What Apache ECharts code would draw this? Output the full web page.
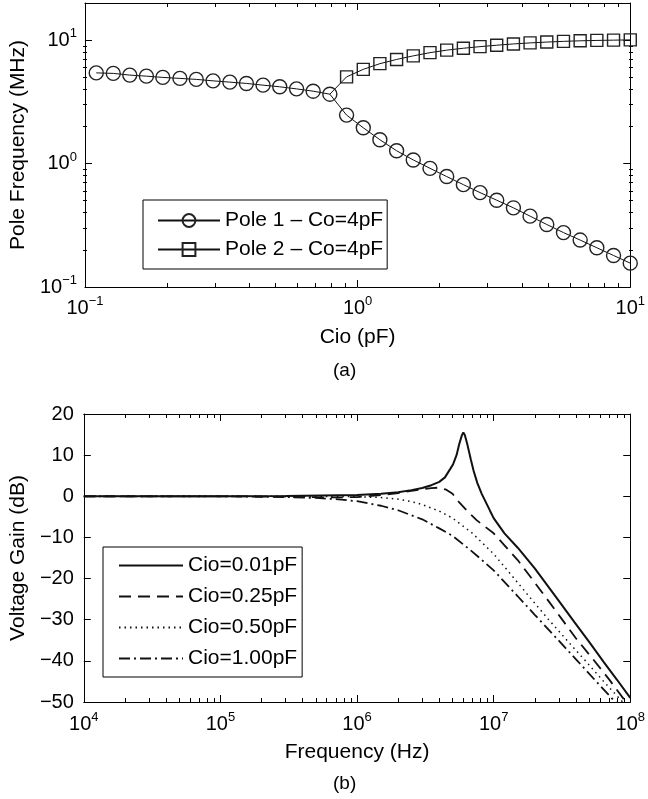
<!DOCTYPE html>
<html><head><meta charset="utf-8">
<script src="https://cdn.jsdelivr.net/npm/echarts@6/dist/echarts.min.js"></script>
<style>html,body{margin:0;padding:0;background:#fff}#c{width:648px;height:799px}</style>
</head><body><div id="c"></div>
<script>
// ---------- (a) pole frequencies ----------
const cioPF = [0.110,0.127,0.146,0.168,0.193,0.223,0.256,0.295,0.340,0.391,0.450,0.518,0.597,0.687,0.791,
  0.911,1.049,1.207,1.390,1.600,1.843,2.122,2.443,2.812,3.237,3.728,4.291,4.941,5.689,6.550,7.541,8.683,10.0];
const pole1MHz = [5.43,5.38,5.21,5.11,4.99,4.90,4.81,4.68,4.57,4.46,4.32,4.19,4.03,3.86,3.65,
  2.47,1.95,1.56,1.27,1.07,0.915,0.785,0.675,0.582,0.505,0.438,0.375,0.321,0.276,0.240,0.208,0.180,0.156];
const pole2MHz = [null,null,null,null,null,null,null,null,null,null,null,null,null,null,3.65,
  5.04,5.80,6.45,6.98,7.46,7.92,8.30,8.60,8.86,9.10,9.32,9.50,9.65,9.78,9.88,9.95,10.0,10.05];
const poleNames = ['Pole 1 \u2013 Co=4pF', 'Pole 2 \u2013 Co=4pF'];

// ---------- (b) voltage gain ----------
const gainNames = ['Cio=0.01pF','Cio=0.25pF','Cio=0.50pF','Cio=1.00pF'];
const fSolid = [1e4,1e5,3e5,1e6,1.5e6,2e6,2.5e6,3e6,3.5e6,4e6,4.4e6,4.8e6,5.05e6,5.35e6,5.6e6,5.85e6,6.0e6,6.15e6,6.43e6,6.8e6,7.13e6,7.6e6,8.18e6,9.4e6,1e7,1.2e7,1.5e7,2e7,3e7,3.9e7,5e7,6.4e7,8e7,1e8];
const gSolid = [0,0,0.05,0.3,0.6,1.0,1.5,2.0,2.7,3.5,4.6,6.6,7.8,10.0,12.7,14.8,15.5,14.9,12.5,9.0,6.2,3.2,0.6,-3.5,-5.3,-9.0,-12.5,-17.5,-25.4,-30.6,-35.4,-40.3,-44.6,-49.0];
const fDash = [1e4,1e5,3e5,6e5,1e6,1.5e6,2e6,2.5e6,3e6,3.5e6,4e6,4.5e6,5e6,5.6e6,6.5e6,7.5e6,1e7,1.5e7,1.9e7,2.5e7,3.1e7,4e7,5.4e7,7e7,9.3e7,1e8];
const gDash = [0,0,-0.1,-0.3,-0.2,0.3,0.8,1.3,1.7,2.0,2.1,1.6,0.6,-1.5,-3.8,-5.8,-9.0,-15.5,-20.0,-25.3,-29.5,-34.5,-39.8,-44.5,-50.0,-51.3];
const fDot = [1e4,1e5,5e5,1e6,1.5e6,2e6,2.5e6,3e6,4e6,5e6,7e6,1e7,1.5e7,2e7,2.5e7,3.5e7,4.7e7,6.5e7,8.8e7,1e8];
const gDot = [0,0,0,-0.1,-0.3,-0.7,-1.3,-2.0,-3.6,-5.3,-9.0,-14.0,-21.0,-26.0,-29.8,-35.3,-40.0,-45.3,-50.0,-52.0];
const fDashDot = [1e4,1e5,3e5,5e5,7e5,1e6,1.5e6,2e6,3e6,4e6,5e6,7e6,1e7,1.5e7,2e7,3e7,4.1e7,6e7,8.3e7,1e8];
const gDashDot = [0,0,-0.2,-0.4,-0.7,-1.2,-2.3,-3.4,-5.6,-7.8,-9.6,-13.5,-18.0,-24.3,-28.8,-35.1,-40.0,-46.0,-51.0,-54.0];

const FONT = '"Liberation Sans", Arial, Helvetica, sans-serif';
const K = '#000';
const zip = (xs, ys) => xs.map((x, i) => [x, ys[i]]);

function logFmt(v) {
  const l = Math.log10(v), e = Math.round(l);
  if (Math.abs(l - e) > 1e-6) return '';
  return '{b|10}{e|' + (e < 0 ? '\u2212' + (-e) : e) + '}';
}
const logRich = {
  b: {fontSize: 20, fontFamily: FONT, color: K, lineHeight: 26},
  e: {fontSize: 13, fontFamily: FONT, color: K, verticalAlign: 'top', lineHeight: 14}
};
const tick = {show: true, inside: true, length: 7, lineStyle: {color: K, width: 1}};
const minor = {show: true, splitNumber: 9, length: 4, lineStyle: {color: K, width: 1}};
const line = {show: true, onZero: false, lineStyle: {color: K, width: 1}};
const nameStyle = {fontSize: 21, fontFamily: FONT, color: K};

const G0 = {left: 83, right: 15, top: 3, height: 284};
const G1 = {left: 83, right: 15, top: 3 + 284 * (Math.log10(20) - 1) / (Math.log10(20) + 1), height: 284 * 2 / (Math.log10(20) + 1)};
const G2 = {left: 83, right: 15, top: 414, height: 288};

const option = {
  animation: false,
  backgroundColor: '#fff',
  grid: [G0, G1, G2],
  xAxis: [
    {gridIndex: 0, type: 'log', min: 0.1, max: 10, position: 'bottom', axisLine: line, axisTick: tick, minorTick: minor,
     splitLine: {show: false}, axisLabel: {formatter: logFmt, rich: logRich, margin: 8},
     name: 'Cio (pF)', nameLocation: 'middle', nameGap: 40, nameTextStyle: nameStyle},
    {gridIndex: 0, type: 'log', min: 0.1, max: 10, position: 'top', axisLine: line, axisTick: tick, minorTick: minor,
     splitLine: {show: false}, axisLabel: {show: false}},
    {gridIndex: 1, type: 'log', min: 0.1, max: 10, show: false},
    {gridIndex: 2, type: 'log', min: 1e4, max: 1e8, position: 'bottom', axisLine: line, axisTick: tick, minorTick: minor,
     splitLine: {show: false}, axisLabel: {formatter: logFmt, rich: logRich, margin: 9},
     name: 'Frequency (Hz)', nameLocation: 'middle', nameGap: 40, nameTextStyle: nameStyle},
    {gridIndex: 2, type: 'log', min: 1e4, max: 1e8, position: 'top', axisLine: line, axisTick: tick, minorTick: minor,
     splitLine: {show: false}, axisLabel: {show: false}}
  ],
  yAxis: [
    {gridIndex: 0, type: 'log', min: 0.1, max: 20, position: 'left', axisLine: line, axisTick: tick,
     splitLine: {show: false}, axisLabel: {formatter: logFmt, rich: logRich, margin: 8},
     name: 'Pole Frequency (MHz)', nameLocation: 'middle', nameGap: 50, nameTextStyle: nameStyle},
    {gridIndex: 0, type: 'log', min: 0.1, max: 20, position: 'right', axisLine: line, axisTick: tick,
     splitLine: {show: false}, axisLabel: {show: false}},
    {gridIndex: 1, type: 'log', min: 0.1, max: 10, position: 'left', axisLine: {show: false},
     axisTick: {show: false, inside: true}, minorTick: minor, splitLine: {show: false}, axisLabel: {show: false}},
    {gridIndex: 1, type: 'log', min: 0.1, max: 10, position: 'right', axisLine: {show: false},
     axisTick: {show: false, inside: true}, minorTick: minor, splitLine: {show: false}, axisLabel: {show: false}},
    {gridIndex: 2, type: 'value', min: -50, max: 20, interval: 10, position: 'left', axisLine: line, axisTick: tick,
     splitLine: {show: false},
     axisLabel: {margin: 10, fontSize: 20, fontFamily: FONT, color: K, formatter: v => v < 0 ? '\u2212' + (-v) : '' + v},
     name: 'Voltage Gain (dB)', nameLocation: 'middle', nameGap: 50, nameTextStyle: nameStyle},
    {gridIndex: 2, type: 'value', min: -50, max: 20, interval: 10, position: 'right', axisLine: line, axisTick: tick,
     splitLine: {show: false}, axisLabel: {show: false}}
  ],
  legend: [
    {data: poleNames, orient: 'vertical', left: 143, top: 200, selectedMode: false,
     itemWidth: 62, itemHeight: 16, itemGap: 8, padding: [10, 4, 9, 14],
     borderColor: K, borderWidth: 1, backgroundColor: '#fff',
     textStyle: {fontSize: 21, fontFamily: FONT, color: K, lineHeight: 20}},
    {data: gainNames, orient: 'vertical', left: 103, top: 547, selectedMode: false,
     itemWidth: 64, itemHeight: 14, itemGap: 10, padding: [8, 5, 8, 15],
     borderColor: K, borderWidth: 1, backgroundColor: '#fff',
     itemStyle: {opacity: 0},
     textStyle: {fontSize: 21, fontFamily: FONT, color: K, lineHeight: 20}}
  ],
  graphic: [
    {type: 'text', left: 345 - 12, top: 361, style: {text: '(a)', font: '19px ' + FONT, fill: K}},
    {type: 'text', left: 345 - 12, top: 774, style: {text: '(b)', font: '19px ' + FONT, fill: K}}
  ],
  series: [
    {name: poleNames[0], type: 'line', xAxisIndex: 0, yAxisIndex: 0, data: zip(cioPF, pole1MHz),
     symbol: 'circle', symbolSize: 14, showAllSymbol: true,
     lineStyle: {color: '#111', width: 1}, itemStyle: {color: 'rgba(0,0,0,0)', borderColor: '#222', borderWidth: 1.4}},
    {name: poleNames[1], type: 'line', xAxisIndex: 0, yAxisIndex: 0,
     data: zip(cioPF, pole2MHz).map((p, i) => p[1] === null ? null : (i === 14 ? {value: p, symbol: 'none'} : p)),
     symbol: 'rect', symbolSize: 12, showAllSymbol: true, connectNulls: false,
     lineStyle: {color: '#111', width: 1}, itemStyle: {color: 'rgba(0,0,0,0)', borderColor: '#222', borderWidth: 1.4}},
    {name: gainNames[0], type: 'line', xAxisIndex: 3, yAxisIndex: 4, data: zip(fSolid, gSolid), symbol: 'none',
     lineStyle: {color: '#111', width: 2}},
    {name: gainNames[1], type: 'line', xAxisIndex: 3, yAxisIndex: 4, data: zip(fDash, gDash), symbol: 'none',
     lineStyle: {color: '#111', width: 1.8, type: [12, 7]}},
    {name: gainNames[2], type: 'line', xAxisIndex: 3, yAxisIndex: 4, data: zip(fDot, gDot), symbol: 'none',
     lineStyle: {color: '#111', width: 1.5, type: [1.5, 4]}},
    {name: gainNames[3], type: 'line', xAxisIndex: 3, yAxisIndex: 4, data: zip(fDashDot, gDashDot), symbol: 'none',
     lineStyle: {color: '#111', width: 1.8, type: [11, 4, 2, 4]}}
  ]
};
const chart = echarts.init(document.getElementById('c'), null, {renderer: 'canvas'});
chart.setOption(option);
</script></body></html>
